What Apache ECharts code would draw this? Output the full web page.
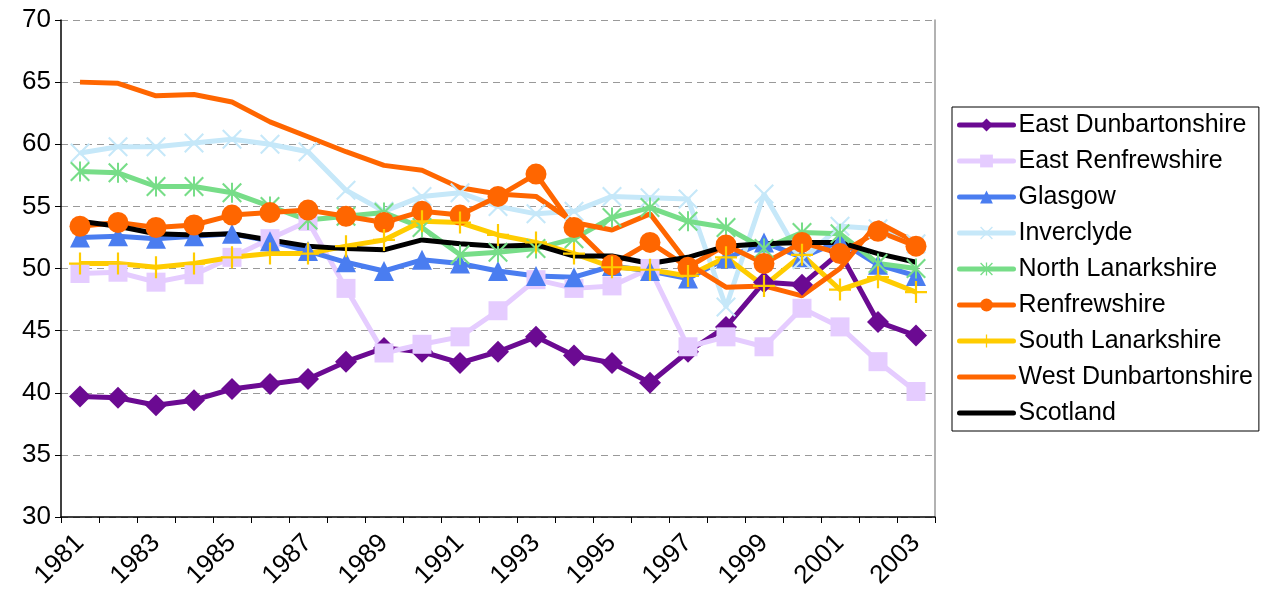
<!DOCTYPE html>
<html>
<head>
<meta charset="utf-8">
<script src="https://cdn.jsdelivr.net/npm/echarts@6/dist/echarts.min.js"></script>
<style>
  html, body { margin: 0; padding: 0; background: #fff; }
  #chart { width: 1264px; height: 596px; }
</style>
</head>
<body>
<div id="chart"></div>
<script>
const years = ["1981", "1982", "1983", "1984", "1985", "1986", "1987", "1988", "1989", "1990", "1991", "1992",
  "1993", "1994", "1995", "1996", "1997", "1998", "1999", "2000", "2001", "2002", "2003"];

const eastDunbartonshire = [39.7, 39.6, 39.0, 39.4, 40.3, 40.7, 41.1, 42.5, 43.6, 43.3, 42.4, 43.3, 44.5, 43.0, 42.4, 40.8, 43.3, 45.3, 48.9, 48.7, 51.3, 45.7, 44.6];
const eastRenfrewshire = [49.6, 49.7, 48.9, 49.5, 50.9, 52.4, 53.8, 48.4, 43.2, 43.9, 44.5, 46.6, 49.1, 48.4, 48.6, 50.0, 43.7, 44.5, 43.7, 46.8, 45.3, 42.5, 40.1];
const glasgow = [52.5, 52.6, 52.4, 52.6, 52.8, 52.2, 51.4, 50.5, 49.8, 50.7, 50.4, 49.8, 49.4, 49.3, 50.2, 49.8, 49.2, 50.8, 52.1, 50.9, 52.2, 50.3, 49.4];
const inverclyde = [59.3, 59.8, 59.8, 60.1, 60.4, 60.0, 59.4, 56.3, 54.6, 55.8, 56.1, 55.0, 54.4, 54.6, 55.8, 55.7, 55.6, 46.9, 56.0, 50.7, 53.4, 53.2, 52.0];
const northLanarkshire = [57.8, 57.7, 56.6, 56.6, 56.1, 55.0, 53.9, 54.2, 54.5, 53.3, 51.1, 51.3, 51.6, 52.4, 54.1, 54.9, 53.8, 53.3, 51.6, 52.9, 52.8, 50.4, 50.0];
const renfrewshire = [53.4, 53.7, 53.3, 53.5, 54.3, 54.5, 54.7, 54.2, 53.7, 54.6, 54.3, 55.8, 57.6, 53.3, 50.3, 52.1, 50.1, 51.9, 50.4, 52.1, 51.2, 53.0, 51.8];
const southLanarkshire = [50.4, 50.4, 50.1, 50.4, 50.9, 51.2, 51.2, 51.8, 52.3, 53.8, 53.7, 52.7, 52.1, 51.2, 50.1, 49.9, 49.4, 50.9, 48.6, 51.1, 48.3, 49.3, 48.1];
const westDunbartonshire = [65.0, 64.9, 63.9, 64.0, 63.4, 61.8, 60.6, 59.4, 58.3, 57.9, 56.5, 56.0, 55.8, 53.7, 53.1, 54.4, 50.4, 48.5, 48.6, 47.8, 50.0, 53.7, 52.1];
const scotland = [53.8, 53.4, 52.8, 52.7, 52.8, 52.3, 51.8, 51.6, 51.5, 52.3, 52.0, 51.8, 51.9, 51.0, 51.0, 50.4, 50.9, 51.8, 52.0, 52.1, 52.1, 51.2, 50.5];

// thin stroke-like marker shapes
const crossPath = "path://M0,1.5 L1.5,0 L10,8.5 L18.5,0 L20,1.5 L11.5,10 L20,18.5 L18.5,20 L10,11.5 L1.5,20 L0,18.5 L8.5,10 Z";
const starPath = "path://M0,1.5 L1.5,0 L10,8.5 L18.5,0 L20,1.5 L11.5,10 L20,18.5 L18.5,20 L10,11.5 L1.5,20 L0,18.5 L8.5,10 Z M9,0 L11,0 L11,20 L9,20 Z";
const plusPath = "path://M9,0 L11,0 L11,9 L20,9 L20,11 L11,11 L11,20 L9,20 L9,11 L0,11 L0,9 L9,9 Z";

function mk(name, data, color, symbol, size) {
  return {
    name: name,
    type: "line",
    data: data,
    symbol: symbol,
    symbolSize: size,
    showSymbol: size > 0,
    lineStyle: { width: 5, color: color },
    itemStyle: { color: color },
    emphasis: { disabled: true },
    animation: false
  };
}

const chart = echarts.init(document.getElementById("chart"));
chart.setOption({
  backgroundColor: "#fff",
  textStyle: { fontFamily: "Liberation Sans, Arial, sans-serif" },
  grid: { left: 61, right: 329, top: 20, bottom: 79 },
  legend: {
    orient: "vertical",
    left: 952, top: 107,
    padding: [4, 6, 4, 5],
    borderColor: "#000", borderWidth: 1,
    itemWidth: 54, itemHeight: 16, itemGap: 8,
    lineStyle: { width: 5, cap: "round" },
    textStyle: { fontSize: 25, color: "#000", lineHeight: 28 },
    data: [
      "East Dunbartonshire", "East Renfrewshire", "Glasgow", "Inverclyde", "North Lanarkshire",
      "Renfrewshire", "South Lanarkshire",
      { name: "West Dunbartonshire", itemStyle: { opacity: 0 } },
      { name: "Scotland", itemStyle: { opacity: 0 } }
    ]
  },
  xAxis: {
    type: "category",
    data: years,
    boundaryGap: true,
    axisLine: { lineStyle: { color: "#000", width: 1.5 } },
    axisTick: { show: true, interval: 0, length: 6, lineStyle: { color: "#000" } },
    axisLabel: { interval: 1, rotate: 45, fontSize: 26, color: "#000", margin: 22 },
    splitLine: { show: false }
  },
  yAxis: [
    {
      type: "value",
      min: 30, max: 70, interval: 5,
      axisLine: { show: true, lineStyle: { color: "#000", width: 1.5 } },
      axisTick: { show: true, length: 6, lineStyle: { color: "#000" } },
      axisLabel: { fontSize: 26, color: "#000", margin: 10 },
      splitLine: { lineStyle: { color: "#999", type: [7, 5] } }
    },
    {
      // right edge of the plot area
      type: "value",
      position: "right",
      min: 30, max: 70, interval: 5,
      axisLine: { show: true, lineStyle: { color: "#999", width: 1.5 } },
      axisTick: { show: false },
      axisLabel: { show: false },
      splitLine: { show: false }
    }
  ],
  series: [
    mk("East Dunbartonshire", eastDunbartonshire, "#6B0A92", "diamond", 22),
    mk("East Renfrewshire", eastRenfrewshire, "#E5CCFF", "rect", 19),
    mk("Glasgow", glasgow, "#4A7DF0", "triangle", 20),
    mk("Inverclyde", inverclyde, "#C6E8F9", crossPath, 20),
    mk("North Lanarkshire", northLanarkshire, "#77DD88", starPath, 20),
    mk("Renfrewshire", renfrewshire, "#FF6600", "circle", 21),
    mk("South Lanarkshire", southLanarkshire, "#FFCC00", plusPath, 22),
    mk("West Dunbartonshire", westDunbartonshire, "#FF6600", "circle", 0),
    mk("Scotland", scotland, "#000000", "circle", 0)
  ]
});
window.addEventListener("resize", function() {
  chart.resize();
});
</script>
</body>
</html>
